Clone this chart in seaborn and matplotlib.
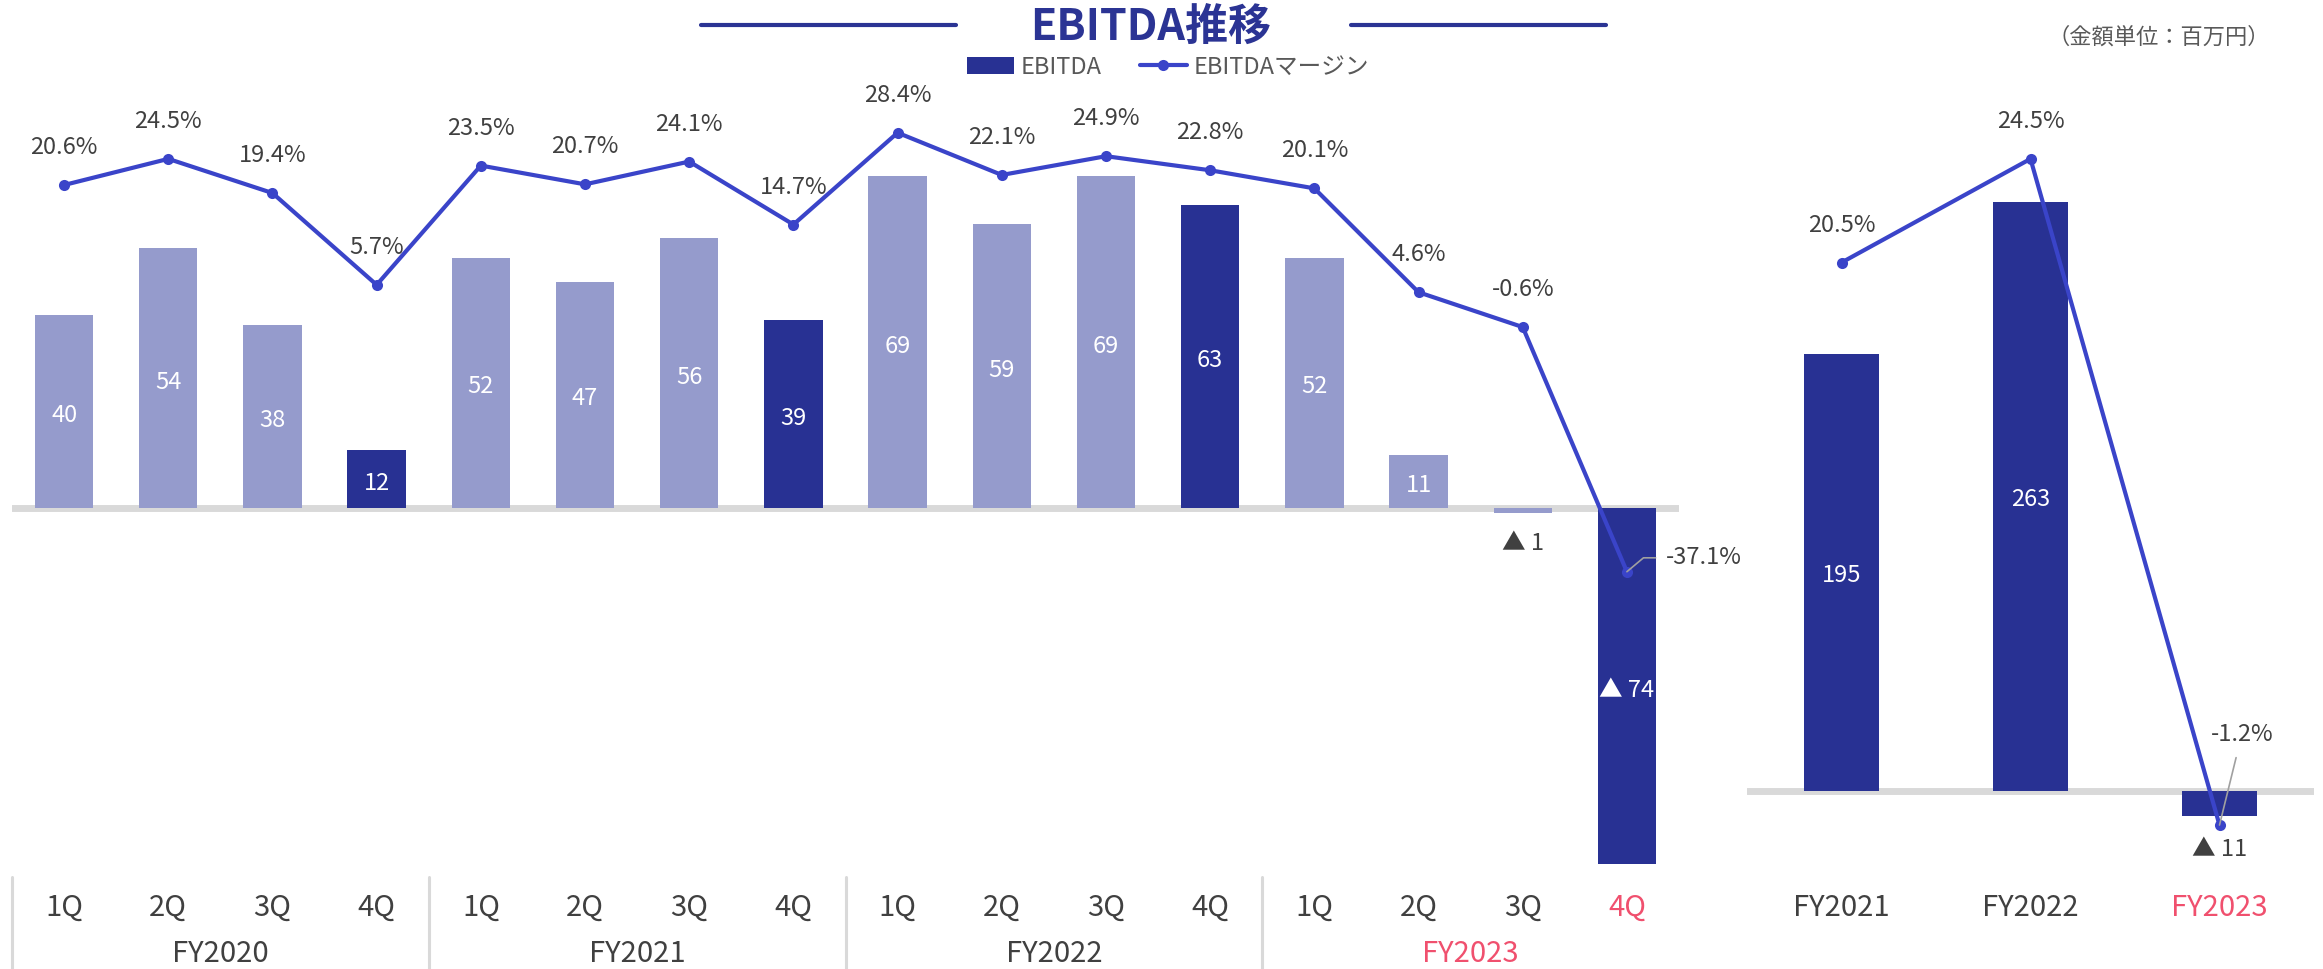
import numpy as np
import pandas as pd
import seaborn as sns
import matplotlib
import matplotlib.pyplot as plt
from matplotlib.patches import Patch
from matplotlib.lines import Line2D
from matplotlib.transforms import blended_transform_factory

matplotlib.use('Agg')

# quarterly EBITDA (million yen) and margin (%)
years = ["FY2020", "FY2021", "FY2022", "FY2023"]
quarters = ["1Q", "2Q", "3Q", "4Q"]
q_ebitda = [40, 54, 38, 12, 52, 47, 56, 39, 69, 59, 69, 63, 52, 11, -1, -74]
q_margin = [20.6, 24.5, 19.4, 5.7, 23.5, 20.7, 24.1, 14.7,
            28.4, 22.1, 24.9, 22.8, 20.1, 4.6, -0.6, -37.1]

# full-year EBITDA and margin
fy_labels = ["FY2021", "FY2022", "FY2023"]
fy_ebitda = [195, 263, -11]
fy_margin = [20.5, 24.5, -1.2]

# colours
LIGHT = "#959BCC"
DARK = "#283193"
LINE = "#3A44C9"
TITLE = "#2B3494"
RED = "#F0506E"
TXT = "#404040"
GRID = "#D9D9D9"

sns.set_theme(style="white")
plt.rcParams['font.family'] = ['Noto Sans CJK JP', 'DejaVu Sans']

W, H = 2323, 969


def fx(px):
    return px / W


def fy(py):
    return 1 - py / H


def fmt_val(v):
    return f"{v}" if v >= 0 else f"▲ {abs(v)}"


fig = plt.figure(figsize=(W / 100, H / 100), dpi=100)

# ---------------- quarterly chart ----------------
periods = [f"{y} {q}" for y in years for q in quarters]
df_q = pd.DataFrame({"period": periods, "ebitda": q_ebitda, "margin": q_margin})
q_colors = [DARK if p.endswith("4Q") else LIGHT for p in periods]

ax1 = fig.add_axes([fx(12), fy(880), fx(1679) - fx(12), fy(120) - fy(880)])
ax1.axhline(0, color=GRID, lw=5, zorder=0)
sns.barplot(data=df_q, x="period", y="ebitda", hue="period", palette=q_colors,
            width=0.56, saturation=1, linewidth=0, legend=False, ax=ax1)
ax1.set_ylim(-77.3, 80.6)

for i, v in enumerate(q_ebitda):
    if abs(v) >= 5:
        ax1.annotate(fmt_val(v), (i, v / 2), xytext=(0, -3), textcoords="offset points",
                     ha="center", va="center", color="white", fontsize=17)
    else:
        ax1.annotate(fmt_val(v), (i, v), xytext=(0, -22), textcoords="offset points",
                     ha="center", va="center", color=TXT, fontsize=17)

ax1b = ax1.twinx()
sns.lineplot(x=np.arange(len(q_margin)), y=q_margin, ax=ax1b, color=LINE, lw=3,
             marker="o", markersize=8, markeredgewidth=0)
ax1b.set_ylim(-83.1, 30.3)
for i, m in enumerate(q_margin):
    if m < -10:
        ax1b.annotate(f"{m}%", (i, m), xytext=(28, 10), textcoords="offset points",
                      ha="left", va="center", color=TXT, fontsize=17,
                      arrowprops=dict(arrowstyle="-", color="#A0A0A0", lw=1.2,
                                      connectionstyle="angle,angleA=0,angleB=40",
                                      relpos=(0, 0.5), shrinkA=5, shrinkB=0))
    else:
        ax1b.annotate(f"{m}%", (i, m), xytext=(0, 27), textcoords="offset points",
                      ha="center", va="center", color=TXT, fontsize=17)

for a in (ax1, ax1b):
    a.set_xlim(-0.5, len(q_ebitda) - 0.5)
    a.set_axis_off()

# category labels under the quarterly chart
tq = blended_transform_factory(ax1.transData, fig.transFigure)
for i, p in enumerate(periods):
    col = RED if p == "FY2023 4Q" else TXT
    ax1.text(i, fy(908), p.split()[1], transform=tq, ha="center", va="center",
             color=col, fontsize=21)
for g, y in enumerate(years):
    col = RED if y == "FY2023" else TXT
    ax1.text(g * 4 + 1.5, fy(954), y, transform=tq, ha="center", va="center",
             color=col, fontsize=21)
    ax1.add_line(Line2D([g * 4 - 0.5] * 2, [fy(877), fy(969)], transform=tq,
                        color=GRID, lw=2.2, clip_on=False))

# ---------------- full-year chart ----------------
df_y = pd.DataFrame({"fy": fy_labels, "ebitda": fy_ebitda, "margin": fy_margin})

ax2 = fig.add_axes([fx(1747), fy(880), fx(2314) - fx(1747), fy(120) - fy(880)])
ax2.axhline(0, color=GRID, lw=5, zorder=0)
sns.barplot(data=df_y, x="fy", y="ebitda", color=DARK, width=0.4, saturation=1,
            linewidth=0, ax=ax2)
ax2.set_ylim(-39.7, 299.4)
for i, v in enumerate(fy_ebitda):
    if v > 0:
        ax2.annotate(fmt_val(v), (i, v / 2), xytext=(0, -2), textcoords="offset points",
                     ha="center", va="center", color="white", fontsize=17)
    else:
        ax2.annotate(fmt_val(v), (i, v), xytext=(0, -24), textcoords="offset points",
                     ha="center", va="center", color=TXT, fontsize=17)

ax2b = ax2.twinx()
sns.lineplot(x=np.arange(len(fy_margin)), y=fy_margin, ax=ax2b, color=LINE, lw=3,
             marker="o", markersize=8, markeredgewidth=0)
ax2b.set_ylim(-3.32, 26.0)
for i, m in enumerate(fy_margin):
    if m < 0:
        ax2b.annotate(f"{m}%", (i, m), xytext=(16, 65), textcoords="offset points",
                      ha="center", va="center", color=TXT, fontsize=17,
                      arrowprops=dict(arrowstyle="-", color="#A0A0A0", lw=1.2,
                                      shrinkA=6, shrinkB=0))
    else:
        ax2b.annotate(f"{m}%", (i, m), xytext=(0, 27), textcoords="offset points",
                      ha="center", va="center", color=TXT, fontsize=17)

for a in (ax2, ax2b):
    a.set_xlim(-0.5, len(fy_ebitda) - 0.5)
    a.set_axis_off()

ty = blended_transform_factory(ax2.transData, fig.transFigure)
for i, lab in enumerate(fy_labels):
    col = RED if lab == "FY2023" else TXT
    ax2.text(i, fy(908), lab, transform=ty, ha="center", va="center",
             color=col, fontsize=21)

# ---------------- title, legend, unit ----------------
fig.text(fx(1151), fy(27), "EBITDA推移", ha="center", va="center",
         color=TITLE, fontsize=31, fontweight="bold")
fig.add_artist(Line2D([fx(701), fx(956)], [fy(25), fy(25)], color=TITLE, lw=3))
fig.add_artist(Line2D([fx(1351), fx(1606)], [fy(25), fy(25)], color=TITLE, lw=3))

handles = [Patch(facecolor=DARK, edgecolor="none"),
           Line2D([], [], color=LINE, lw=3, marker="o", markersize=8, markeredgewidth=0)]
leg = fig.legend(handles, ["EBITDA", "EBITDAマージン"], loc="center",
                 bbox_to_anchor=(fx(1168), fy(67)), ncol=2, frameon=False,
                 fontsize=17, handlelength=2.0, handletextpad=0.3, columnspacing=1.6)
for t in leg.get_texts():
    t.set_color("#595959")

fig.text(fx(2270), fy(37), "（金額単位：百万円）", ha="right", va="center",
         color="#595959", fontsize=16)

fig.savefig("out.png", dpi=100)
